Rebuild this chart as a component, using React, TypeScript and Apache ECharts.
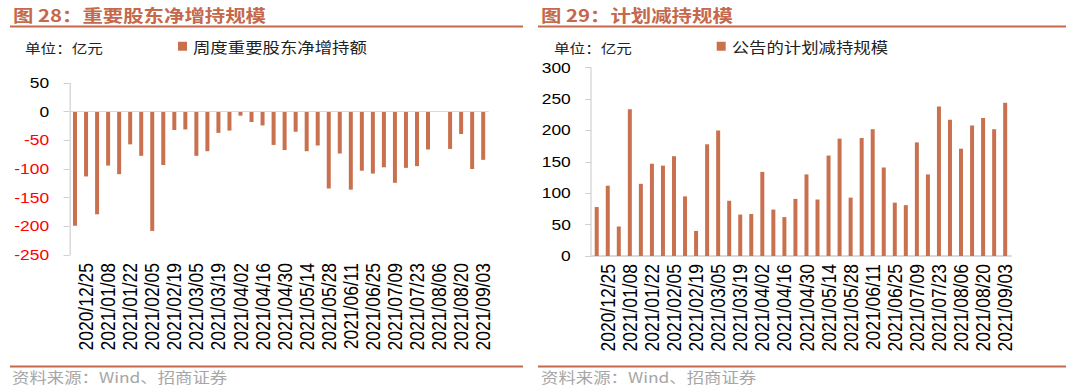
import React, { useEffect, useRef } from "react";
import * as echarts from "echarts";

const weeks: string[] = [
  "2020/12/18", "2020/12/25", "2021/01/01", "2021/01/08", "2021/01/15", "2021/01/22",
  "2021/01/29", "2021/02/05", "2021/02/12", "2021/02/19", "2021/02/26", "2021/03/05",
  "2021/03/12", "2021/03/19", "2021/03/26", "2021/04/02", "2021/04/09", "2021/04/16",
  "2021/04/23", "2021/04/30", "2021/05/07", "2021/05/14", "2021/05/21", "2021/05/28",
  "2021/06/04", "2021/06/11", "2021/06/18", "2021/06/25", "2021/07/02", "2021/07/09",
  "2021/07/16", "2021/07/23", "2021/07/30", "2021/08/06", "2021/08/13", "2021/08/20",
  "2021/08/27", "2021/09/03",
];

const netIncrease: number[] = [
  -199, -113, -179, -94, -109, -57, -77, -208, -93, -32, -31, -77, -69, -37, -33, -7, -18, -24,
  -58, -67, -35, -69, -59, -134, -73, -136, -103, -108, -97, -124, -98, -95, -66, 1, -65, -39,
  -100, -84,
];

const plannedReduction: number[] = [
  78, 112, 47, 234, 115, 147, 144, 159, 95, 40, 178, 200, 88, 66, 67, 134, 74, 62, 91, 130,
  90, 160, 187, 93, 188, 202, 141, 85, 81, 181, 130, 238, 217, 171, 208, 220, 202, 244,
];

const leftTicks = { min: -250, max: 50, interval: 50 };
const rightTicks = { min: 0, max: 300, interval: 50 };

const leftTitle = "图 28：重要股东净增持规模";
const rightTitle = "图 29：计划减持规模";
const unitText = "单位：亿元";
const leftSeriesName = "周度重要股东净增持额";
const rightSeriesName = "公告的计划减持规模";
const sourceText = "资料来源：Wind、招商证券";

const S = 1.2; // horizontal stretch of the reference picture
const W = 1080 / S;
const H = 388;
const X = (px: number) => px / S;

const ORANGE = "#C5684B";
const BAR = "#C9714F";
const AXIS_GREY = "#D0D0D0";
const CJK = "'Noto Sans CJK SC', sans-serif";
const LATIN = "'Liberation Sans', Arial, sans-serif";

export default function App() {
  const ref = useRef<HTMLDivElement>(null);

  useEffect(() => {
    if (!ref.current) return;
    const chart = echarts.init(ref.current, undefined, { renderer: "svg", width: W, height: H });

    const xLabel = {
      rotate: 90,
      interval: (i: number) => i % 2 === 1,
      fontSize: 17.5,
      fontFamily: LATIN,
      color: "#000",
      margin: 8,
    };
    const yLabelBase = { fontSize: 14.5, fontFamily: LATIN, margin: 17 };

    const text = (x: number, y: number, t: string, font: string, fill: string) => ({
      type: "text",
      x,
      y,
      style: { text: t, font, fill, verticalAlign: "middle", textVerticalAlign: "middle" },
    });
    const hline = (x1: number, x2: number, y: number, w: number) => ({
      type: "line",
      shape: { x1, y1: y, x2, y2: y },
      style: { stroke: ORANGE, lineWidth: w },
    });

    chart.setOption({
      animation: false,
      backgroundColor: "#fff",
      grid: [
        { left: X(69.5), top: 83, width: X(488.7) - X(69.5), height: 172, containLabel: false },
        { left: X(591.2), top: 67.7, width: X(1010.7) - X(591.2), height: 188.3, containLabel: false },
      ],
      legend: [
        {
          data: [leftSeriesName],
          left: X(172),
          top: 34,
          icon: "rect",
          itemWidth: X(9),
          itemHeight: 9,
          textStyle: { fontSize: 14.5, fontFamily: CJK, color: "#222" },
        },
        {
          data: [rightSeriesName],
          left: X(710.7),
          top: 34,
          icon: "rect",
          itemWidth: X(9),
          itemHeight: 9,
          textStyle: { fontSize: 14.5, fontFamily: CJK, color: "#222" },
        },
      ],
      xAxis: [
        {
          type: "category",
          gridIndex: 0,
          data: weeks,
          position: "bottom",
          axisLine: { show: false, onZero: false },
          axisTick: { show: false },
          axisLabel: xLabel,
        },
        {
          type: "category",
          gridIndex: 1,
          data: weeks,
          axisLine: { show: true, lineStyle: { color: "#D9D9D9", width: 2 } },
          axisTick: { show: false },
          axisLabel: xLabel,
        },
      ],
      yAxis: [
        {
          type: "value",
          gridIndex: 0,
          ...leftTicks,
          axisLine: { show: true, lineStyle: { color: AXIS_GREY } },
          axisTick: { show: true, inside: false, length: X(6), lineStyle: { color: AXIS_GREY } },
          splitLine: { show: false },
          axisLabel: {
            ...yLabelBase,
            color: (v: any) => (Number(v) < 0 ? "#FF0000" : "#000"),
          },
        },
        {
          type: "value",
          gridIndex: 1,
          ...rightTicks,
          axisLine: { show: true, lineStyle: { color: AXIS_GREY } },
          axisTick: { show: true, inside: false, length: X(6), lineStyle: { color: AXIS_GREY } },
          splitLine: { show: false },
          axisLabel: { ...yLabelBase, color: "#000" },
        },
      ],
      series: [
        {
          name: leftSeriesName,
          type: "bar",
          xAxisIndex: 0,
          yAxisIndex: 0,
          data: netIncrease,
          barWidth: X(4),
          itemStyle: { color: BAR },
          markLine: {
            silent: true,
            symbol: "none",
            label: { show: false },
            lineStyle: { color: "#D9D9D9", type: "solid", width: 1 },
            data: [{ yAxis: 0 }],
          },
        },
        {
          name: rightSeriesName,
          type: "bar",
          xAxisIndex: 1,
          yAxisIndex: 1,
          data: plannedReduction,
          barWidth: X(4),
          itemStyle: { color: BAR },
        },
      ],
      graphic: [
        text(X(13), 14, leftTitle, `bold 17px ${CJK}`, ORANGE),
        text(X(541), 14, rightTitle, `bold 17px ${CJK}`, ORANGE),
        hline(X(10), X(523), 26.5, 2),
        hline(X(538), X(1066), 26.5, 2),
        text(X(25), 47.5, unitText, `13px ${CJK}`, "#222"),
        text(X(554), 47.5, unitText, `13px ${CJK}`, "#222"),
        hline(X(10), X(523), 366.5, 2),
        hline(X(538), X(1066), 366.5, 2),
        text(X(12), 377, sourceText, `14.5px ${CJK}`, "#A6A6A6"),
        text(X(541), 377, sourceText, `14.5px ${CJK}`, "#A6A6A6"),
      ],
    });

    return () => chart.dispose();
  }, []);

  return (
    <div
      ref={ref}
      style={{
        position: "absolute",
        left: 0,
        top: 0,
        width: W,
        height: H,
        transform: `scaleX(${S})`,
        transformOrigin: "0 0",
        background: "#fff",
      }}
    />
  );
}
